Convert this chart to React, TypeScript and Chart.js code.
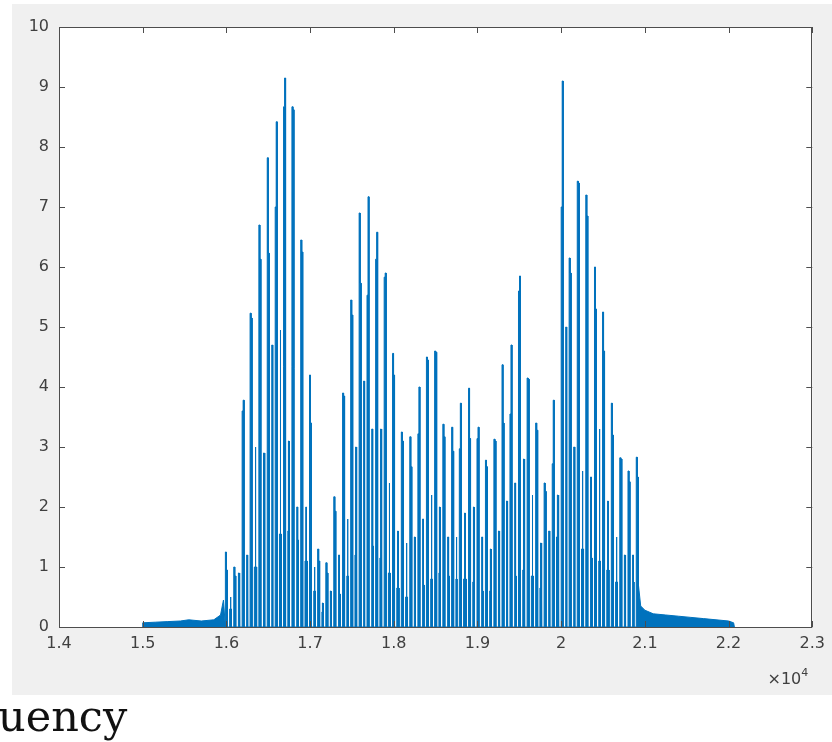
import React, { useEffect, useRef } from 'react';
import { Chart, registerables } from 'chart.js';

Chart.register(...registerables);

// ---- axis ticks ----
const xTickLabels = ['1.4', '1.5', '1.6', '1.7', '1.8', '1.9', '2', '2.1', '2.2', '2.3'];
const yTickLabels = ['0', '1', '2', '3', '4', '5', '6', '7', '8', '9', '10'];
const xMin = 14000;
const xMax = 23000;
const xStep = 1000;
const exponentBase = '\u00d710';
const exponentPower = '4';

// ---- noise floor before the comb ----
const preFreq = [15000, 15000, 15150, 15300, 15450, 15550, 15700, 15850, 15930, 15965];
const preLevel = [0, 0.07, 0.08, 0.09, 0.1, 0.12, 0.1, 0.12, 0.2, 0.45];

// ---- main comb spikes (frequency, left top, right top) ----
const spikeFreq = [
  16000, 16100, 16200, 16295, 16400, 16500, 16595, 16695, 16795, 16900,
  17005, 17102, 17200, 17295, 17400, 17497, 17598, 17692, 17795, 17897,
  17997, 18102, 18203, 18300, 18402, 18500, 18598, 18703, 18795, 18905,
  19006, 19107, 19208, 19305, 19400, 19502, 19605, 19707, 19808, 19905,
  20012, 20107, 20204, 20306, 20410, 20506, 20611, 20712, 20810, 20909,
];
const spikeTopA = [
  1.25, 1.0, 3.6, 5.23, 6.7, 7.82, 7.0, 8.67, 8.67, 6.45,
  4.2, 1.3, 1.07, 2.17, 3.9, 5.45, 6.9, 5.53, 6.13, 5.83,
  4.56, 3.25, 3.17, 3.22, 4.5, 4.6, 3.38, 3.33, 2.97, 3.98,
  3.14, 2.78, 3.13, 4.37, 3.55, 5.6, 4.15, 3.4, 2.4, 2.72,
  7.0, 6.15, 7.43, 7.2, 6.0, 5.25, 3.73, 2.82, 2.6, 2.83,
];
const spikeTopB = [
  0.95, 0.85, 3.78, 5.15, 6.13, 6.23, 8.42, 9.15, 8.62, 6.25,
  3.4, 1.1, 0.9, 1.93, 3.85, 5.2, 5.73, 7.17, 6.58, 5.9,
  4.2, 3.1, 2.67, 4.0, 4.45, 4.58, 3.17, 2.93, 3.73, 3.14,
  3.33, 2.67, 3.1, 3.4, 4.7, 5.85, 4.13, 3.28, 2.26, 3.78,
  9.1, 5.9, 7.4, 6.85, 5.3, 4.6, 3.2, 2.8, 2.42, 2.5,
];

// ---- dense floor between spikes and the small secondary line in each gap ----
const gapFloor = [
  0.3, 0.55, 0.7, 1.0, 1.35, 1.45, 1.55, 1.6, 1.45, 1.1,
  0.6, 0.25, 0.3, 0.55, 0.85, 1.2, 1.4, 1.35, 1.15, 0.9,
  0.65, 0.5, 0.55, 0.7, 0.8, 0.9, 0.85, 0.8, 0.8, 0.75,
  0.6, 0.6, 0.7, 0.8, 0.85, 0.95, 0.85, 0.65, 0.9, 1.5,
  1.9, 1.55, 1.3, 1.15, 1.1, 0.95, 0.75, 0.7, 0.75,
];
const gapPeak = [
  0.5, 0.9, 1.2, 3.0, 2.9, 4.7, 4.95, 3.1, 2.0, 2.0,
  1.0, 0.4, 0.6, 1.2, 1.8, 3.0, 4.1, 3.3, 3.3, 2.4,
  1.6, 1.4, 1.5, 1.8, 2.2, 2.0, 1.5, 1.5, 1.9, 2.0,
  1.5, 1.3, 1.6, 2.1, 2.4, 2.8, 2.2, 1.4, 1.6, 2.2,
  5.0, 3.0, 2.6, 2.5, 3.3, 2.1, 1.5, 1.2, 1.2,
];

// ---- noise floor after the comb ----
const tailFreq = [20925, 20950, 21000, 21100, 21250, 21400, 21550, 21700, 21850, 22000, 22060, 22070];
const tailLevel = [0.7, 0.35, 0.28, 0.22, 0.2, 0.18, 0.16, 0.14, 0.12, 0.1, 0.07, 0];

// shape constants (Hz)
const SPIKE_HALF = 12;
const STRIPE = 27;
const GAP_PEAK_HALF = 4;

const BLUE = '#0072BD';
const AXIS = '#4d4d4d';
const LABEL = '#404040';
const BG = '#f0f0f0';

function buildPoints() {
  const pts: { x: number; y: number }[] = [];
  preFreq.forEach((f, i) => pts.push({ x: f, y: preLevel[i] }));
  spikeFreq.forEach((f, i) => {
    pts.push(
      { x: f - SPIKE_HALF, y: 0 },
      { x: f - SPIKE_HALF, y: spikeTopA[i] },
      { x: f, y: spikeTopA[i] },
      { x: f, y: spikeTopB[i] },
      { x: f + SPIKE_HALF, y: spikeTopB[i] },
      { x: f + SPIKE_HALF, y: 0 },
    );
    if (i < spikeFreq.length - 1) {
      const left = f + SPIKE_HALF + STRIPE;
      const right = spikeFreq[i + 1] - SPIKE_HALF - STRIPE;
      if (right - left > 2 * GAP_PEAK_HALF) {
        const c = (left + right) / 2;
        pts.push(
          { x: left, y: 0 },
          { x: left, y: gapFloor[i] },
          { x: c - GAP_PEAK_HALF, y: gapFloor[i] },
          { x: c - GAP_PEAK_HALF, y: gapPeak[i] },
          { x: c + GAP_PEAK_HALF, y: gapPeak[i] },
          { x: c + GAP_PEAK_HALF, y: gapFloor[i] },
          { x: right, y: gapFloor[i] },
          { x: right, y: 0 },
        );
      }
    }
  });
  tailFreq.forEach((f, i) => pts.push({ x: f, y: tailLevel[i] }));
  return pts;
}

const framePlugin = {
  id: 'matlabFrame',
  beforeDraw(chart: any) {
    const { ctx, chartArea } = chart;
    ctx.save();
    ctx.fillStyle = BG;
    ctx.fillRect(0, 0, chart.width, chart.height);
    ctx.fillStyle = '#ffffff';
    ctx.fillRect(chartArea.left, chartArea.top, chartArea.right - chartArea.left, chartArea.bottom - chartArea.top);
    ctx.restore();
  },
  afterDraw(chart: any) {
    const { ctx, chartArea } = chart;
    const { left, right, top, bottom } = chartArea;
    const xs = chart.scales.x;
    const ys = chart.scales.y;
    const TL = 6;
    ctx.save();
    ctx.strokeStyle = AXIS;
    ctx.lineWidth = 1;
    ctx.beginPath();
    xs.ticks.forEach((t: any) => {
      const px = Math.round(xs.getPixelForValue(t.value)) + 0.5;
      ctx.moveTo(px, bottom);
      ctx.lineTo(px, bottom - TL);
      ctx.moveTo(px, top);
      ctx.lineTo(px, top + TL);
    });
    ys.ticks.forEach((t: any) => {
      const py = Math.round(ys.getPixelForValue(t.value)) + 0.5;
      ctx.moveTo(left, py);
      ctx.lineTo(left + TL, py);
      ctx.moveTo(right, py);
      ctx.lineTo(right - TL, py);
    });
    ctx.stroke();
    ctx.strokeRect(Math.round(left) + 0.5, Math.round(top) + 0.5, Math.round(right - left) - 1, Math.round(bottom - top));
    // exponent label
    ctx.fillStyle = LABEL;
    ctx.textBaseline = 'alphabetic';
    ctx.textAlign = 'left';
    ctx.font = '11px "DejaVu Sans"';
    const pw = ctx.measureText(exponentPower).width;
    ctx.font = '16px "DejaVu Sans"';
    const bw = ctx.measureText(exponentBase).width;
    const xr = right - 4;
    const base = bottom + 57;
    ctx.fillText(exponentBase, xr - pw - bw, base);
    ctx.font = '11px "DejaVu Sans"';
    ctx.fillText(exponentPower, xr - pw, base - 8);
    ctx.restore();
  },
};

export default function App() {
  const ref = useRef<HTMLCanvasElement | null>(null);
  useEffect(() => {
    if (!ref.current) return;
    const chart = new Chart(ref.current, {
      type: 'line',
      data: {
        datasets: [
          {
            data: buildPoints(),
            borderColor: BLUE,
            borderWidth: 1,
            backgroundColor: BLUE,
            fill: 'origin',
            pointRadius: 0,
            tension: 0,
          },
        ],
      },
      options: {
        responsive: false,
        animation: false,
        devicePixelRatio: 1,
        events: [],
        layout: { padding: { left: 0, right: 16, top: 23, bottom: 0 } },
        plugins: { legend: { display: false }, tooltip: { enabled: false } },
        scales: {
          x: {
            type: 'linear',
            min: xMin,
            max: xMax,
            grid: { display: false, drawTicks: false },
            border: { display: false },
            afterFit: (s: any) => { s.height = 68; },
            ticks: {
              stepSize: xStep,
              autoSkip: false,
              maxRotation: 0,
              padding: 7,
              color: LABEL,
              font: { family: 'DejaVu Sans', size: 16 },
              callback: (_v: any, i: number) => xTickLabels[i],
            },
          },
          y: {
            min: 0,
            max: 10,
            grid: { display: false, drawTicks: false },
            border: { display: false },
            afterFit: (s: any) => { s.width = 47; },
            ticks: {
              stepSize: 1,
              padding: 10,
              color: LABEL,
              font: { family: 'DejaVu Sans', size: 16 },
              callback: (_v: any, i: number) => yTickLabels[i],
            },
          },
        },
      },
      plugins: [framePlugin],
    } as any);
    return () => chart.destroy();
  }, []);

  return (
    <div style={{ position: 'absolute', left: 0, top: 0, width: 832, height: 742, overflow: 'hidden', background: '#ffffff' }}>
      <canvas
        ref={ref}
        width={820}
        height={691}
        style={{ position: 'absolute', left: 12, top: 4, width: 820, height: 691 }}
      />
      <div
        style={{
          position: 'absolute',
          left: -2,
          top: 695,
          fontFamily: '"DejaVu Serif", serif',
          fontSize: 43,
          lineHeight: 1,
          color: '#111111',
          whiteSpace: 'nowrap',
        }}
      >
        uency
      </div>
    </div>
  );
}
